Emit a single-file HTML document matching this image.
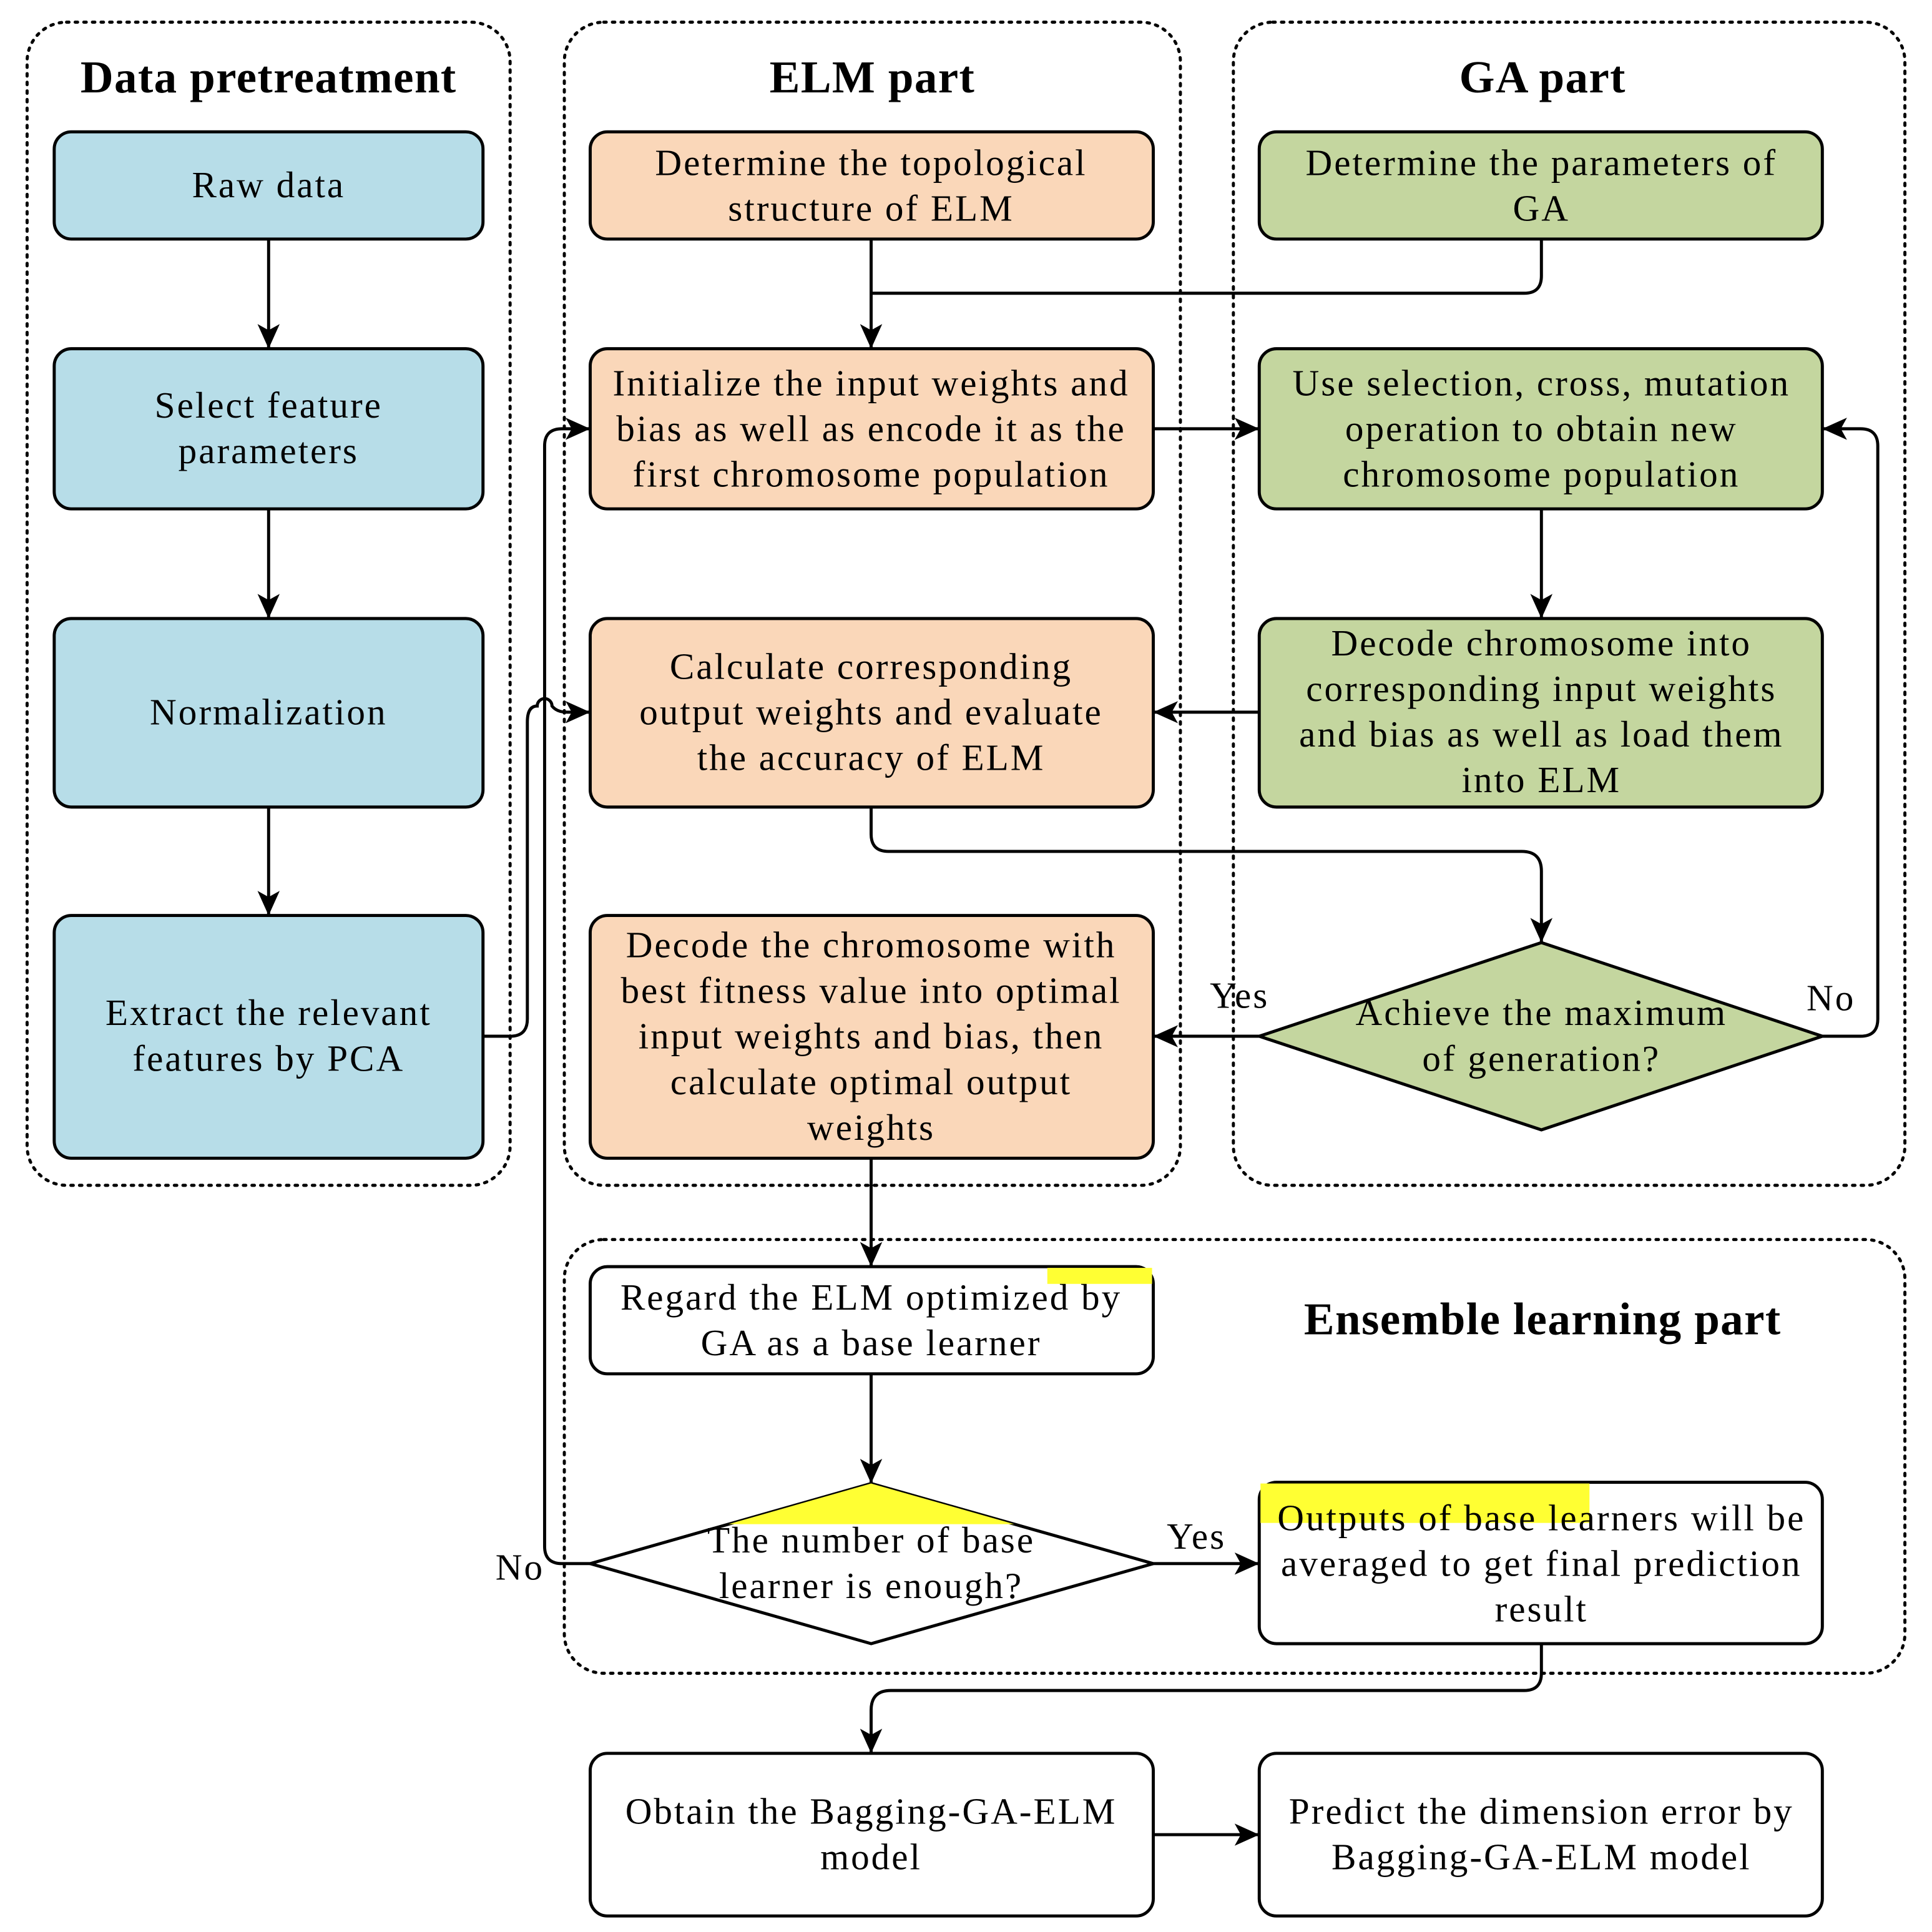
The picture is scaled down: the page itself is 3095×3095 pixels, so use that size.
<!DOCTYPE html>
<html><head><meta charset="utf-8"><style>html,body{margin:0;padding:0;background:#fff}svg{display:block}</style></head><body>
<svg width="3095" height="3095" viewBox="0 0 1568 1568" xmlns="http://www.w3.org/2000/svg" font-family="Liberation Serif, serif">
<defs>
<marker id="b" markerWidth="22" markerHeight="22" refX="20" refY="11" orient="auto" markerUnits="userSpaceOnUse" viewBox="0 0 22 22"><path d="M0,2 L20,11 L0,20 L5,11 z" fill="#000"/></marker>
<clipPath id="dc"><polygon points="479,1269 707,1204 936,1269 707,1334"/></clipPath>
</defs>
<g fill="none" stroke="#000" stroke-width="2.5" stroke-dasharray="2 5" stroke-linecap="round">
<rect x="22" y="18" width="392" height="944" rx="32"/>
<rect x="458" y="18" width="500" height="944" rx="32"/>
<rect x="1001" y="18" width="545" height="944" rx="32"/>
<rect x="458" y="1006" width="1088" height="352" rx="32"/>
</g>
<g font-weight="bold" font-size="37" letter-spacing="0.7" text-anchor="middle">
<text x="218" y="75">Data pretreatment</text>
<text x="708" y="75">ELM part</text>
<text x="1252" y="75">GA part</text>
<text x="1252" y="1083">Ensemble learning part</text>
</g>
<g stroke="#000" stroke-width="2.5">
<g fill="#b7dde8">
<rect x="44" y="107" width="348" height="87" rx="14"/>
<rect x="44" y="283" width="348" height="130" rx="14"/>
<rect x="44" y="502" width="348" height="153" rx="14"/>
<rect x="44" y="743" width="348" height="197" rx="14"/>
</g>
<g fill="#fad7b9">
<rect x="479" y="107" width="457" height="87" rx="14"/>
<rect x="479" y="283" width="457" height="130" rx="14"/>
<rect x="479" y="502" width="457" height="153" rx="14"/>
<rect x="479" y="743" width="457" height="197" rx="14"/>
</g>
<g fill="#c4d69f">
<rect x="1022" y="107" width="457" height="87" rx="14"/>
<rect x="1022" y="283" width="457" height="130" rx="14"/>
<rect x="1022" y="502" width="457" height="153" rx="14"/>
<polygon points="1022,841 1251,765 1479,841 1251,917"/>
</g>
<g fill="#fff">
<rect x="479" y="1028" width="457" height="87" rx="14"/>
<polygon points="479,1269 707,1204 936,1269 707,1334"/>
<rect x="1022" y="1203" width="457" height="131" rx="14"/>
<rect x="479" y="1423" width="457" height="132" rx="14"/>
<rect x="1022" y="1423" width="457" height="132" rx="14"/>
</g>
</g>
<g fill="#ffff33">
<rect x="850" y="1029" width="85" height="13"/>
<rect x="1023" y="1204" width="267" height="32"/>
<rect x="560" y="1200" width="300" height="37" clip-path="url(#dc)"/>
</g>
<g fill="none" stroke="#000" stroke-width="2.5">
<path d="M218,194 V283" marker-end="url(#b)"/>
<path d="M218,413 V502" marker-end="url(#b)"/>
<path d="M218,655 V743" marker-end="url(#b)"/>
<path d="M707,194 V283" marker-end="url(#b)"/>
<path d="M1251,194 V224 Q1251,238 1237,238 H707"/>
<path d="M936,348 H1022" marker-end="url(#b)"/>
<path d="M1251,413 V502" marker-end="url(#b)"/>
<path d="M1022,578 H936" marker-end="url(#b)"/>
<path d="M707,655 V677 Q707,691 721,691 H1235 Q1251,691 1251,707 V765" marker-end="url(#b)"/>
<path d="M1022,841 H936" marker-end="url(#b)"/>
<path d="M1479,841 H1510 Q1524,841 1524,827 V362 Q1524,348 1510,348 H1479" marker-end="url(#b)"/>
<path d="M392,841 H414 Q428,841 428,827 V586 Q428,573 436,573 A6,6 0 0 1 448,573 Q452,578 460,578 H479" marker-end="url(#b)"/>
<path d="M479,1269 H456 Q442,1269 442,1255 V362 Q442,348 456,348 H479" marker-end="url(#b)"/>
<path d="M707,940 V1028" marker-end="url(#b)"/>
<path d="M707,1115 V1204" marker-end="url(#b)"/>
<path d="M936,1269 H1022" marker-end="url(#b)"/>
<path d="M1251,1334 V1358 Q1251,1372 1237,1372 H723 Q707,1372 707,1388 V1423" marker-end="url(#b)"/>
<path d="M936,1489 H1022" marker-end="url(#b)"/>
</g>
<g font-size="30" letter-spacing="1.5" text-anchor="middle" fill="#000">
<text x="218" y="339">Select feature</text><text x="218" y="376">parameters</text>
<text x="218" y="160">Raw data</text>
<text x="218" y="588">Normalization</text>
<text x="218" y="832">Extract the relevant</text><text x="218" y="869">features by PCA</text>
<text x="707" y="142">Determine the topological</text><text x="707" y="179">structure of ELM</text>
<text x="707" y="321">Initialize the input weights and</text><text x="707" y="358">bias as well as encode it as the</text><text x="707" y="395">first chromosome population</text>
<text x="707" y="551">Calculate corresponding</text><text x="707" y="588">output weights and evaluate</text><text x="707" y="625">the accuracy of ELM</text>
<text x="707" y="777">Decode the chromosome with</text><text x="707" y="814">best fitness value into optimal</text><text x="707" y="851">input weights and bias, then</text><text x="707" y="888">calculate optimal output</text><text x="707" y="925">weights</text>
<text x="1251" y="142">Determine the parameters of</text><text x="1251" y="179">GA</text>
<text x="1251" y="321">Use selection, cross, mutation</text><text x="1251" y="358">operation to obtain new</text><text x="1251" y="395">chromosome population</text>
<text x="1251" y="532">Decode chromosome into</text><text x="1251" y="569">corresponding input weights</text><text x="1251" y="606">and bias as well as load them</text><text x="1251" y="643">into ELM</text>
<text x="1251" y="832">Achieve the maximum</text><text x="1251" y="869">of  generation?</text>
<text x="707" y="1063">Regard the ELM optimized by</text><text x="707" y="1100">GA as a base learner</text>
<text x="707" y="1260">The number of base</text><text x="707" y="1297">learner is enough?</text>
<text x="1251" y="1242">Outputs of base learners will be</text><text x="1251" y="1279">averaged to get final prediction</text><text x="1251" y="1316">result</text>
<text x="707" y="1480">Obtain the Bagging-GA-ELM</text><text x="707" y="1517">model</text>
<text x="1251" y="1480">Predict the dimension error by</text><text x="1251" y="1517">Bagging-GA-ELM model</text>
<text x="1006" y="818">Yes</text>
<text x="1486" y="820">No</text>
<text x="971" y="1257">Yes</text>
<text x="422" y="1282">No</text>
</g>
</svg>
</body></html>
